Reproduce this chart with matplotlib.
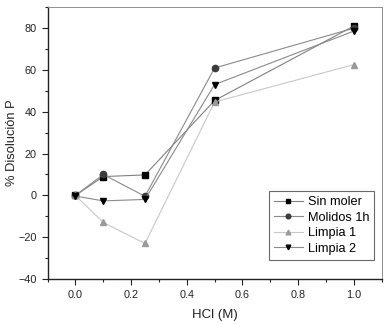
import matplotlib
matplotlib.use("Agg")
import matplotlib.pyplot as plt
from matplotlib.ticker import MultipleLocator

plt.rcParams['font.family'] = ['Liberation Sans', 'DejaVu Sans']

hcl = [0.0, 0.1, 0.25, 0.5, 1.0]
sin_moler = [0.0, 9.0, 9.8, 45.3, 80.8]
molidos_1h = [0.0, 10.0, -0.4, 60.8, 79.8]
limpia_1 = [0.0, -12.9, -22.9, 44.6, 62.4]
limpia_2 = [-0.3, -2.6, -1.9, 52.9, 78.4]

fig = plt.figure(figsize=(3.87, 3.24), dpi=100)
ax = fig.add_axes([0.123, 0.138, 0.863, 0.841])

ax.plot(hcl, sin_moler, color='#808080', lw=0.8, marker='s', ms=4.5,
        mfc='black', mec='black', label='Sin moler')
ax.plot(hcl, molidos_1h, color='#8a8a8a', lw=0.8, marker='o', ms=4.5,
        mfc='#3c3c3c', mec='#3c3c3c', label='Molidos 1h')
ax.plot(hcl, limpia_1, color='#c8c8c8', lw=0.8, marker='^', ms=4.5,
        mfc='#9a9a9a', mec='#9a9a9a', label='Limpia 1')
ax.plot(hcl, limpia_2, color='#8a8a8a', lw=0.8, marker='v', ms=4.5,
        mfc='black', mec='black', label='Limpia 2')

ax.set_xlim(-0.1, 1.1)
ax.set_ylim(-40, 90)
ax.xaxis.set_major_locator(MultipleLocator(0.2))
ax.xaxis.set_minor_locator(MultipleLocator(0.1))
ax.set_yticks([-40, -20, 0, 20, 40, 60, 80])
ax.yaxis.set_minor_locator(MultipleLocator(10))
ax.tick_params(which='both', direction='out', labelsize=7.8, colors='#222222')
ax.tick_params(which='major', length=4, width=0.8, pad=4)
ax.tick_params(which='minor', length=2.5, width=0.8)
ax.set_xticklabels(['%.1f' % v for v in ax.get_xticks()])

for side in ['left', 'bottom']:
    ax.spines[side].set_color('#222222')
    ax.spines[side].set_linewidth(1.0)
for side in ['top', 'right']:
    ax.spines[side].set_color('#909090')
    ax.spines[side].set_linewidth(0.7)

ax.set_xlabel('HCl (M)', fontsize=9.5, color='#222222', labelpad=6)
ax.set_ylabel('% Disolución P', fontsize=9.3, color='#222222', labelpad=1)
ax.yaxis.set_label_coords(-0.09, 0.5)

leg = ax.legend(loc='lower right', bbox_to_anchor=(0.978, 0.071), fontsize=9.2,
                frameon=True, fancybox=False, edgecolor='#444444',
                handlelength=2.2, handletextpad=0.4, borderpad=0.4,
                labelspacing=0.28, markerscale=0.75, borderaxespad=0)
leg.get_frame().set_linewidth(0.8)

fig.savefig('out.png', dpi=100)
